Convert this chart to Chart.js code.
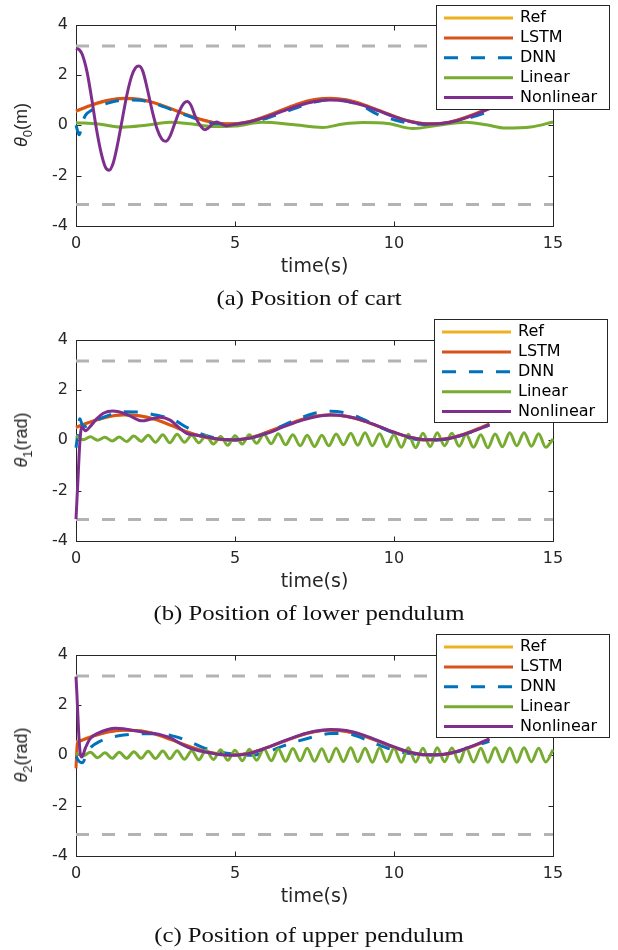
<!DOCTYPE html>
<html>
<head>
<meta charset="utf-8">
<script src="https://cdn.jsdelivr.net/npm/chart.js@4.4.0/dist/chart.umd.min.js"></script>
<style>
  body { margin: 0; background: #fff; }
  #page { position: relative; width: 618px; height: 950px; font-family: "Liberation Sans", Arial, sans-serif; color: #262626; }
  .panel { position: absolute; left: 0; width: 618px; }
  .ylab { position: absolute; left: 21px; font-size: 18px; line-height: 1; white-space: nowrap;
          transform: translate(-50%, -50%) rotate(-90deg); }
  .ylab sub { font-size: 13px; line-height: 0; vertical-align: -5px; }
  .cap { position: absolute; left: 0; width: 618px; text-align: center; font-family: "Liberation Serif", "Times New Roman", serif;
         font-size: 21px; line-height: 24px; color: #111; transform: scaleX(1.18); }
</style>
</head>
<body>
<div id="page">
  <div class="panel" style="top:0"><canvas id="cA" width="618" height="315"></canvas>
    <div class="ylab" style="top:125px"><i>θ</i><sub>0</sub>(m)</div></div>
  <div class="cap" style="top:286px">(a) Position of cart</div>

  <div class="panel" style="top:315px"><canvas id="cB" width="618" height="315"></canvas>
    <div class="ylab" style="top:125px"><i>θ</i><sub>1</sub>(rad)</div></div>
  <div class="cap" style="top:601px">(b) Position of lower pendulum</div>

  <div class="panel" style="top:630px"><canvas id="cC" width="618" height="320"></canvas>
    <div class="ylab" style="top:125px"><i>θ</i><sub>2</sub>(rad)</div></div>
  <div class="cap" style="top:923px">(c) Position of upper pendulum</div>
</div>
<script>
// ---- time grids (s) ----
const tSmooth = [0, 0.5, 1, 1.5, 2, 2.5, 3, 3.5, 4, 4.5, 5, 5.5, 6, 6.5, 7, 7.5, 8, 8.5, 9, 9.5, 10, 10.5, 11, 11.5, 12, 12.5, 13];
const tOsc = [0, 0.23, 0.45, 0.68, 0.91, 1.14, 1.36, 1.59, 1.82, 2.05, 2.27,
  2.5, 2.73, 2.95, 3.18, 3.41, 3.64, 3.86, 4.09, 4.32, 4.55, 4.77,
  5, 5.23, 5.45, 5.68, 5.91, 6.14, 6.36, 6.59, 6.82, 7.05, 7.27,
  7.5, 7.73, 7.95, 8.18, 8.41, 8.64, 8.86, 9.09, 9.32, 9.55, 9.77,
  10, 10.23, 10.45, 10.68, 10.91, 11.14, 11.36, 11.59, 11.82, 12.05, 12.27,
  12.5, 12.73, 12.95, 13.18, 13.41, 13.64, 13.86, 14.09, 14.32, 14.55, 14.77, 15];
const piT = [0, 15];
const piHi = [3.1416, 3.1416];
const piLo = [-3.1416, -3.1416];

// ---- (a) theta0 ----
const refA = [0.55, 0.79, 0.97, 1.05, 1.01, 0.87, 0.65, 0.41, 0.20, 0.07, 0.06, 0.16, 0.36, 0.60, 0.83, 0.99, 1.05, 0.99, 0.83, 0.60, 0.36, 0.16, 0.06, 0.07, 0.20, 0.41, 0.67];
const lstmA = [0.57, 0.81, 0.99, 1.07, 1.03, 0.88, 0.65, 0.41, 0.21, 0.08, 0.06, 0.16, 0.37, 0.62, 0.86, 1.02, 1.07, 1.01, 0.84, 0.60, 0.36, 0.16, 0.06, 0.08, 0.21, 0.43, 0.70];
const dnnAt = [0, 0.1, 0.2, 0.3, 0.5, 1, 1.5, 2, 2.5, 3, 3.5, 4, 4.5, 5, 5.5, 6, 6.5, 7, 7.5, 8, 8.5, 9, 9.5, 10, 10.5, 11, 11.5, 12, 12.5, 13];
const dnnA = [0.0, -0.38, 0.1, 0.4, 0.6, 0.88, 1.0, 0.99, 0.84, 0.62, 0.38, 0.17, 0.05, 0.03, 0.10, 0.28, 0.50, 0.72, 0.92, 1.02, 0.96, 0.76, 0.42, 0.22, 0.08, 0.03, 0.06, 0.16, 0.34, 0.55];
const linAt = [0, 0.7, 1.45, 2.2, 2.95, 3.6, 4.3, 5.0, 5.85, 6.8, 7.75, 8.4, 9.0, 9.8, 10.6, 11.4, 12.25, 12.9, 13.5, 14.3, 15];
const linA = [0.10, 0.05, -0.08, 0.0, 0.12, 0.06, -0.05, -0.03, 0.12, 0.03, -0.09, 0.05, 0.11, 0.07, -0.13, 0.0, 0.12, 0.02, -0.11, -0.07, 0.13];
const nonAt = [0, 0.1, 0.2, 0.35, 0.5, 0.65, 0.8, 0.92, 1.04, 1.17, 1.3, 1.45, 1.6, 1.75, 1.87, 1.98, 2.1, 2.25, 2.4, 2.55, 2.7, 2.82, 2.95, 3.1, 3.25, 3.4, 3.5, 3.62, 3.75, 3.9, 4.05, 4.15, 4.3, 4.42, 4.55, 4.72, 5, 5.5, 6, 6.5, 7, 7.5, 8, 8.5, 9, 9.5, 10, 10.5, 11, 11.5, 12, 12.5, 13];
const nonA = [3.05, 3.0, 2.8, 2.1, 1.0, -0.2, -1.15, -1.65, -1.79, -1.5, -0.8, 0.2, 1.2, 1.95, 2.28, 2.35, 2.15, 1.4, 0.55, -0.15, -0.55, -0.64, -0.45, 0.05, 0.55, 0.88, 0.94, 0.78, 0.35, 0.0, -0.18, -0.12, 0.06, 0.13, 0.06, -0.02, 0.04, 0.15, 0.33, 0.56, 0.78, 0.94, 1.0, 0.95, 0.8, 0.58, 0.34, 0.15, 0.05, 0.07, 0.19, 0.4, 0.66];

// ---- (b) theta1 ----
const refB = [0.50, 0.74, 0.92, 1.00, 0.96, 0.82, 0.58, 0.32, 0.13, 0.03, 0.01, 0.11, 0.31, 0.55, 0.78, 0.94, 1.00, 0.94, 0.78, 0.55, 0.31, 0.11, 0.01, 0.03, 0.16, 0.37, 0.62];
const lstmB = [0.52, 0.75, 0.93, 1.01, 0.97, 0.83, 0.59, 0.33, 0.14, 0.04, 0.01, 0.11, 0.32, 0.56, 0.79, 0.95, 1.01, 0.95, 0.79, 0.56, 0.32, 0.12, 0.02, 0.04, 0.17, 0.39, 0.65];
const dnnBt = [0, 0.05, 0.12, 0.2, 0.3, 0.5, 1, 1.5, 2, 2.5, 3, 3.5, 4, 4.5, 5, 5.5, 6, 6.5, 7, 7.5, 8, 8.5, 9, 9.5, 10, 10.5, 11, 11.5, 12, 12.5, 13];
const dnnB = [-0.3, 0.2, 0.85, 0.6, 0.55, 0.7, 0.98, 1.13, 1.12, 1.0, 0.86, 0.5, 0.22, 0.06, 0.01, 0.08, 0.3, 0.58, 0.86, 1.07, 1.15, 1.08, 0.85, 0.55, 0.28, 0.08, 0.0, 0.02, 0.14, 0.36, 0.6];
const linB = [0.18, 0.02, 0.14, 0.0, 0.12, -0.03, 0.13, -0.05, 0.17, -0.04, 0.2,
  -0.08, 0.22, -0.1, 0.24, -0.08, 0.2, -0.1, 0.18, -0.15, 0.15, -0.2,
  0.18, -0.15, 0.22, -0.12, 0.24, -0.14, 0.26, -0.18, 0.22, -0.22, 0.2,
  -0.25, 0.2, -0.22, 0.25, -0.18, 0.28, -0.2, 0.3, -0.22, 0.26, -0.26,
  0.22, -0.28, 0.24, -0.3, 0.28, -0.25, 0.3, -0.22, 0.28, -0.24, 0.24,
  -0.28, 0.22, -0.3, 0.25, -0.26, 0.3, -0.22, 0.3, -0.24, 0.26, -0.28, 0.05];
const nonBt = [0, 0.06, 0.12, 0.18, 0.3, 0.45, 0.65, 0.86, 1.16, 1.5, 1.8, 2.07, 2.33, 2.64, 2.96, 3.27, 3.48, 3.8, 4.1, 4.63, 5, 5.5, 6, 6.5, 7, 7.5, 8, 8.5, 9, 9.5, 10, 10.5, 11, 11.5, 12, 12.5, 13];
const nonB = [-3.13, -1.6, -0.1, 0.53, 0.38, 0.55, 0.85, 1.07, 1.16, 1.07, 0.9, 0.77, 0.83, 0.91, 0.8, 0.47, 0.27, 0.2, 0.13, 0.03, 0.02, 0.09, 0.27, 0.52, 0.75, 0.92, 1.0, 0.95, 0.79, 0.56, 0.32, 0.12, 0.02, 0.03, 0.15, 0.36, 0.62];

// ---- (c) theta2 ----
const refC = [0.52, 0.76, 0.93, 1.00, 0.97, 0.83, 0.61, 0.37, 0.17, 0.04, 0.01, 0.10, 0.30, 0.54, 0.77, 0.94, 1.00, 0.95, 0.79, 0.56, 0.32, 0.12, 0.02, 0.03, 0.15, 0.36, 0.62];
const lstmCt = [0, 0.04, 0.1, 0.5, 1, 1.5, 2, 2.5, 3, 3.5, 4, 4.5, 5, 5.5, 6, 6.5, 7, 7.5, 8, 8.5, 9, 9.5, 10, 10.5, 11, 11.5, 12, 12.5, 13];
const lstmC = [-0.52, 0.45, 0.55, 0.74, 0.92, 0.99, 0.97, 0.84, 0.62, 0.38, 0.18, 0.05, 0.02, 0.1, 0.3, 0.53, 0.76, 0.93, 0.99, 0.94, 0.78, 0.55, 0.31, 0.11, 0.02, 0.03, 0.15, 0.37, 0.64];
const dnnCt = [0, 0.1, 0.2, 0.35, 0.5, 0.75, 1, 1.5, 2, 2.5, 3, 3.5, 4, 4.5, 5, 5.5, 6, 6.5, 7, 7.5, 8, 8.5, 9, 9.5, 10, 10.5, 11, 11.5, 12, 12.5, 13];
const dnnC = [-0.05, -0.25, -0.3, 0.1, 0.35, 0.55, 0.68, 0.8, 0.85, 0.85, 0.78, 0.58, 0.3, 0.14, 0.04, 0.0, 0.12, 0.36, 0.57, 0.74, 0.86, 0.86, 0.68, 0.42, 0.2, 0.07, 0.01, 0.02, 0.15, 0.36, 0.55];
const linC = [0.08, -0.02, 0.12, -0.1, 0.1, -0.12, 0.12, -0.12, 0.14, -0.12, 0.16,
  -0.13, 0.17, -0.14, 0.18, -0.16, 0.18, -0.18, 0.2, -0.17, 0.22, -0.2,
  0.2, -0.22, 0.24, -0.2, 0.26, -0.22, 0.25, -0.24, 0.27, -0.22, 0.28,
  -0.24, 0.26, -0.26, 0.28, -0.25, 0.3, -0.26, 0.28, -0.28, 0.3, -0.26,
  0.28, -0.28, 0.3, -0.27, 0.28, -0.29, 0.3, -0.26, 0.29, -0.28, 0.3,
  -0.27, 0.28, -0.28, 0.3, -0.27, 0.29, -0.28, 0.3, -0.26, 0.28, -0.27, 0.22];
const nonCt = [0, 0.03, 0.08, 0.13, 0.18, 0.3, 0.44, 0.7, 1, 1.23, 1.5, 1.8, 2.1, 2.4, 2.7, 3, 3.3, 3.6, 3.9, 4.2, 4.5, 4.8, 5.2, 5.6, 6, 6.5, 7, 7.5, 8, 8.5, 9, 9.5, 10, 10.5, 11, 11.5, 12, 12.5, 13];
const nonC = [3.12, 2.4, 1.0, 0.1, -0.07, 0.3, 0.65, 0.88, 1.02, 1.07, 1.05, 0.98, 0.92, 0.87, 0.8, 0.67, 0.45, 0.27, 0.17, 0.1, 0.03, 0.0, 0.02, 0.12, 0.3, 0.55, 0.78, 0.95, 1.02, 0.98, 0.82, 0.58, 0.33, 0.12, 0.02, 0.03, 0.16, 0.38, 0.65];

// matlab default colours
const C_REF = '#EDB120', C_LSTM = '#D95319', C_DNN = '#0072BD', C_LIN = '#77AC30', C_NON = '#7E2F8E', C_PI = '#B3B3B3';
const AXIS = '#262626';
const FONT = '"DejaVu Sans", sans-serif';

Chart.defaults.font.family = FONT;
Chart.defaults.color = AXIS;

const pairs = (ts, ys) => ts.map((t, i) => ({ x: t, y: ys[i] }));

// full box with inward ticks, drawn under the lines
const boxAxes = {
  id: 'boxAxes',
  beforeDatasetsDraw(chart) {
    const { ctx, chartArea: a, scales: { x, y } } = chart;
    ctx.save();
    ctx.strokeStyle = AXIS;
    ctx.lineWidth = 1;
    const L = Math.round(a.left) + 0.5, R = Math.round(a.right) + 0.5;
    const T = Math.round(a.top) + 0.5, B = Math.round(a.bottom) + 0.5;
    ctx.strokeRect(L, T, R - L, B - T);
    ctx.beginPath();
    x.ticks.forEach(t => {
      const px = Math.round(x.getPixelForValue(t.value)) + 0.5;
      ctx.moveTo(px, B); ctx.lineTo(px, B - 5);
      ctx.moveTo(px, T); ctx.lineTo(px, T + 5);
    });
    y.ticks.forEach(t => {
      const py = Math.round(y.getPixelForValue(t.value)) + 0.5;
      ctx.moveTo(L, py); ctx.lineTo(L + 5, py);
      ctx.moveTo(R, py); ctx.lineTo(R - 5, py);
    });
    ctx.stroke();
    ctx.restore();
  }
};

// boxed legend at a fixed spot, like the matlab one
const boxLegend = {
  id: 'boxLegend',
  afterDraw(chart, args, o) {
    const ctx = chart.ctx;
    const items = chart.data.datasets.filter(d => d.inLegend);
    ctx.save();
    ctx.fillStyle = '#fff';
    ctx.fillRect(o.x, o.y, o.w, o.h);
    ctx.strokeStyle = AXIS;
    ctx.lineWidth = 1;
    ctx.strokeRect(o.x + 0.5, o.y + 0.5, o.w, o.h);
    ctx.font = '16px ' + FONT;
    ctx.textBaseline = 'middle';
    items.forEach((d, i) => {
      const yy = o.y + 13 + i * 19.9;
      ctx.strokeStyle = d.borderColor;
      ctx.lineWidth = 3;
      ctx.setLineDash(d.borderDash || []);
      ctx.beginPath();
      ctx.moveTo(o.x + 8, yy);
      ctx.lineTo(o.x + 77, yy);
      ctx.stroke();
      ctx.setLineDash([]);
      ctx.fillStyle = '#000';
      ctx.fillText(d.label, o.x + 84, yy);
    });
    ctx.restore();
  }
};

function makeChart(id, height, s, legendBox) {
  const datasets = [
    { label: 'Ref', data: pairs(tSmooth, s.ref), borderColor: C_REF, order: 5, inLegend: true },
    { label: 'LSTM', data: pairs(s.lstmT, s.lstm), borderColor: C_LSTM, order: 4, inLegend: true },
    { label: 'DNN', data: pairs(s.dnnT, s.dnn), borderColor: C_DNN, borderDash: [14, 13], order: 3, inLegend: true },
    { label: 'Linear', data: pairs(s.linT, s.lin), borderColor: C_LIN, order: 2, inLegend: true },
    { label: 'Nonlinear', data: pairs(s.nonT, s.non), borderColor: C_NON, order: 1, inLegend: true },
    { label: 'upper', data: pairs(piT, piHi), borderColor: C_PI, borderDash: [13, 13], order: 6 },
    { label: 'lower', data: pairs(piT, piLo), borderColor: C_PI, borderDash: [13, 13], order: 6 }
  ];
  datasets.forEach(d => { d.backgroundColor = d.borderColor; d.clip = false; });

  const plotBottom = 226, titleMid = 267, titleFont = 19;
  const xBottom = titleMid + titleFont * 1.2 / 2;

  return new Chart(document.getElementById(id), {
    type: 'line',
    data: { datasets },
    options: {
      responsive: false,
      animation: false,
      layout: { padding: { top: 24.5, right: 65, bottom: height - xBottom, left: 0 } },
      elements: {
        line: { borderWidth: 3, cubicInterpolationMode: 'monotone' },
        point: { radius: 0 }
      },
      scales: {
        x: {
          type: 'linear', min: 0, max: 15,
          grid: { display: false, drawTicks: false },
          border: { display: false },
          ticks: { stepSize: 5, padding: 8, color: AXIS, font: { size: 16 } },
          title: { display: true, text: 'time(s)', color: AXIS, font: { size: titleFont }, padding: 0 },
          afterFit(sc) { sc.height = xBottom - plotBottom; }
        },
        y: {
          min: -4, max: 4,
          grid: { display: false, drawTicks: false },
          border: { display: false },
          ticks: { stepSize: 2, padding: 8, color: AXIS, font: { size: 16 } },
          afterFit(sc) { sc.width = 76; }
        }
      },
      plugins: {
        legend: { display: false },
        tooltip: { enabled: false },
        boxLegend: legendBox
      }
    },
    plugins: [boxAxes, boxLegend]
  });
}

makeChart('cA', 315, {
  ref: refA, lstmT: tSmooth, lstm: lstmA, dnnT: dnnAt, dnn: dnnA,
  linT: linAt, lin: linA, nonT: nonAt, non: nonA
}, { x: 436, y: 5, w: 173, h: 104 });

makeChart('cB', 315, {
  ref: refB, lstmT: tSmooth, lstm: lstmB, dnnT: dnnBt, dnn: dnnB,
  linT: tOsc, lin: linB, nonT: nonBt, non: nonB
}, { x: 434, y: 4, w: 173, h: 103 });

makeChart('cC', 320, {
  ref: refC, lstmT: lstmCt, lstm: lstmC, dnnT: dnnCt, dnn: dnnC,
  linT: tOsc, lin: linC, nonT: nonCt, non: nonC
}, { x: 436, y: 4, w: 173, h: 103 });
</script>
</body>
</html>
